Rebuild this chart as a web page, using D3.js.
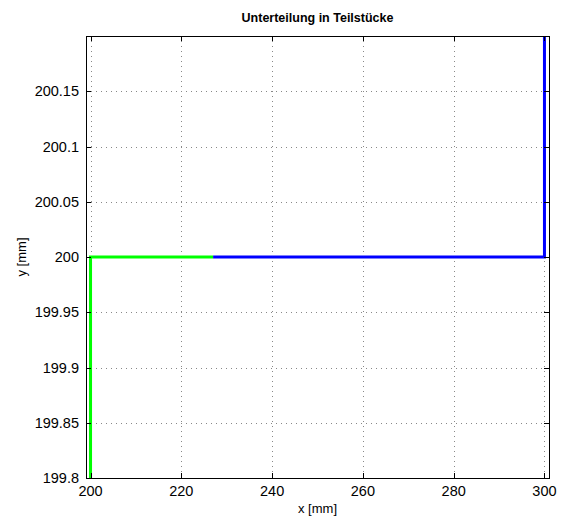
<!DOCTYPE html>
<html>
<head>
<meta charset="utf-8">
<script src="https://cdn.jsdelivr.net/npm/d3@7"></script>
<style>
  body { margin: 0; background: #fff; }
  svg { display: block; font-family: "Liberation Sans", Arial, sans-serif; }
</style>
</head>
<body>
<script>
// data
var xTicks = [200, 220, 240, 260, 280, 300];
var yTicks = [199.8, 199.85, 199.9, 199.95, 200, 200.05, 200.1, 200.15];
var yTickLabels = ["199.8", "199.85", "199.9", "199.95", "200", "200.05", "200.1", "200.15"];
var greenX = [200, 200, 227];
var greenY = [199.7, 200, 200];
var blueX = [227, 300, 300];
var blueY = [200, 200, 200.3];

var width = 563, height = 517;
var pLeft = 86, pRight = 549, pTop = 36, pBottom = 478;

var x = d3.scaleLinear().domain([199, 301]).range([pLeft, pRight]);
var y = d3.scaleLinear().domain([199.8, 200.2]).range([pBottom, pTop]);

var svg = d3.select("body").append("svg")
    .attr("width", width)
    .attr("height", height);

svg.append("defs").append("clipPath")
    .attr("id", "clip")
    .append("rect")
    .attr("x", pLeft).attr("y", pTop)
    .attr("width", pRight - pLeft).attr("height", pBottom - pTop);

// grid
var grid = svg.append("g")
    .attr("stroke", "#888")
    .attr("stroke-width", 1)
    .attr("stroke-dasharray", "1,4");

grid.selectAll(".gx")
    .data(xTicks)
    .enter().append("line")
    .attr("x1", function(d) { return Math.round(x(d)) + 0.5; })
    .attr("x2", function(d) { return Math.round(x(d)) + 0.5; })
    .attr("y1", pTop).attr("y2", pBottom);

grid.selectAll(".gy")
    .data(yTicks.slice(1))
    .enter().append("line")
    .attr("y1", function(d) { return Math.round(y(d)) + 0.5; })
    .attr("y2", function(d) { return Math.round(y(d)) + 0.5; })
    .attr("x1", pLeft).attr("x2", pRight);

// lines
var line = d3.line()
    .x(function(d) { return x(d[0]); })
    .y(function(d) { return y(d[1]); });

var plot = svg.append("g").attr("clip-path", "url(#clip)");

plot.append("path")
    .attr("d", line(d3.zip(greenX, greenY)))
    .attr("fill", "none")
    .attr("stroke", "#00ff00")
    .attr("stroke-width", 3);

plot.append("path")
    .attr("d", line(d3.zip(blueX, blueY)))
    .attr("fill", "none")
    .attr("stroke", "#0000ff")
    .attr("stroke-width", 3);

// axes box
svg.append("rect")
    .attr("x", pLeft + 0.5).attr("y", pTop + 0.5)
    .attr("width", pRight - pLeft).attr("height", pBottom - pTop)
    .attr("fill", "none")
    .attr("stroke", "#000");

// ticks inward on all sides
var ticks = svg.append("g").attr("stroke", "#000");
xTicks.forEach(function(d) {
    var px = Math.round(x(d)) + 0.5;
    ticks.append("line").attr("x1", px).attr("x2", px).attr("y1", pBottom).attr("y2", pBottom - 5);
    ticks.append("line").attr("x1", px).attr("x2", px).attr("y1", pTop).attr("y2", pTop + 5);
});
yTicks.forEach(function(d) {
    var py = Math.round(y(d)) + 0.5;
    ticks.append("line").attr("y1", py).attr("y2", py).attr("x1", pLeft).attr("x2", pLeft + 5);
    ticks.append("line").attr("y1", py).attr("y2", py).attr("x1", pRight).attr("x2", pRight - 5);
});

// tick labels
svg.selectAll(".xl")
    .data(xTicks)
    .enter().append("text")
    .attr("x", function(d) { return x(d); })
    .attr("y", 496)
    .attr("text-anchor", "middle")
    .attr("font-size", "14.5px")
    .text(function(d) { return d; });

svg.selectAll(".yl")
    .data(yTicks)
    .enter().append("text")
    .attr("x", 79)
    .attr("y", function(d) { return y(d) + 5; })
    .attr("text-anchor", "end")
    .attr("font-size", "14.5px")
    .text(function(d, i) { return yTickLabels[i]; });

// labels
svg.append("text")
    .attr("x", (pLeft + pRight) / 2)
    .attr("y", 22)
    .attr("text-anchor", "middle")
    .attr("font-size", "12.5px")
    .attr("font-weight", "bold")
    .text("Unterteilung in Teilstücke");

svg.append("text")
    .attr("x", (pLeft + pRight) / 2)
    .attr("y", 513)
    .attr("text-anchor", "middle")
    .attr("font-size", "13px")
    .text("x [mm]");

svg.append("text")
    .attr("transform", "translate(26," + ((pTop + pBottom) / 2) + ") rotate(-90)")
    .attr("text-anchor", "middle")
    .attr("font-size", "13px")
    .text("y [mm]");
</script>
</body>
</html>
